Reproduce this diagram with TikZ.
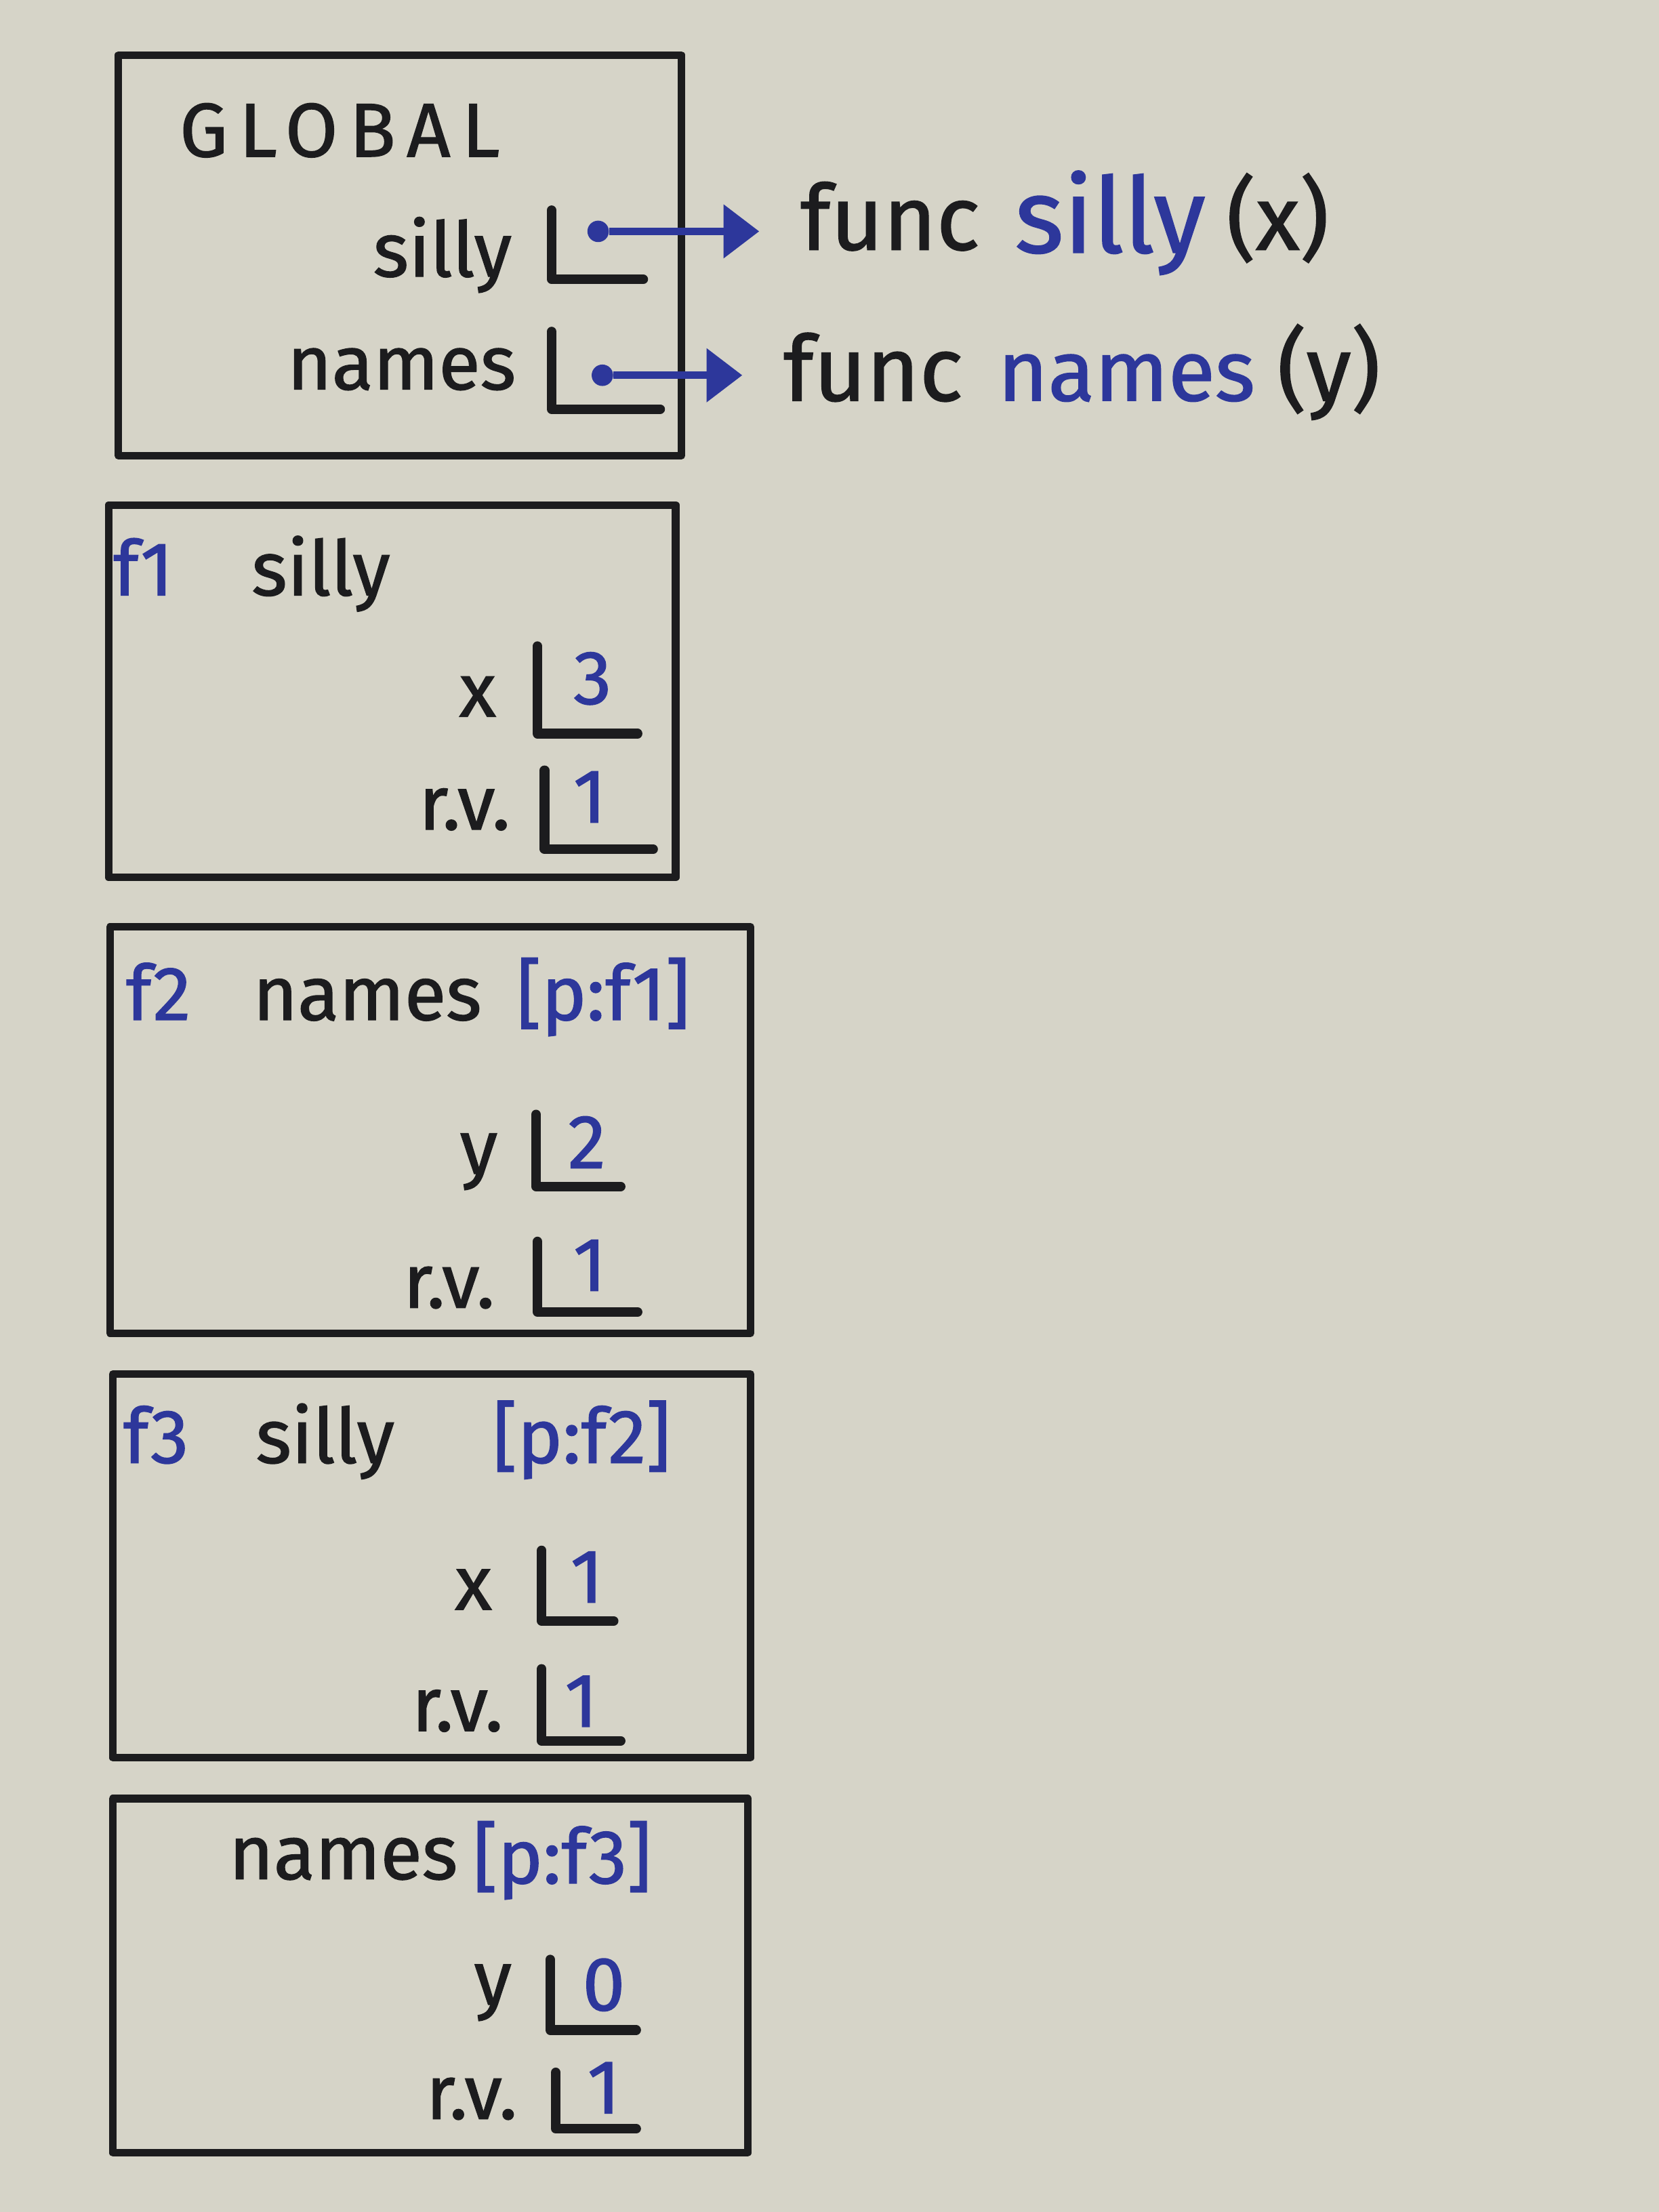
\documentclass[tikz,border=0pt]{standalone}
\usepackage{fontspec}
\setmainfont{Fira Sans}[FakeBold = 1.2]
\usetikzlibrary{arrows.meta}
\definecolor{paper}{RGB}{214,212,200}
\definecolor{ink}{RGB}{28,28,30}
\definecolor{inkblue}{RGB}{45,55,155}
\newcommand{\handfont}{\fontsize{32}{36}\selectfont}
\newcommand{\funcfont}{\fontsize{38}{42}\selectfont}
\tikzset{frm/.style = {draw = ink, line width = 3.2pt, line join = round},
  slot/.style = {draw = ink, line width = 4pt, line cap = round, line join = round},
  lbl/.style = {anchor = base east, inner sep = 0, text = ink, font = \handfont},
  hdr/.style = {anchor = base west, inner sep = 0, text = ink, font = \handfont},
  val/.style = {anchor = base, inner sep = 0, text = inkblue, font = \handfont},
  bdot/.style = {fill = inkblue, circle, inner sep = 0, minimum size = 9pt},
  ptr/.style = {draw = inkblue, line width = 3pt, shorten > = 0.6cm,
    -{Triangle[length = 15pt, width = 22pt]}}}

\begin{document}
\begin{tikzpicture}[x = 0.0208163cm, y = -0.0208163cm]
    \fill [paper] (0, 0) rectangle (1176, 1568);
    \useasboundingbox (0, 0) rectangle (1176, 1568);

    % global frame
    \draw [frm] (84, 39) rectangle (483, 323);
    \node [hdr, font = \handfont\addfontfeature{LetterSpace = 15}] (glob) at (127, 111) {GLOBAL};
    \node [lbl] (gsilly) at (363, 196) {silly};
    \draw [slot] (391, 149) -- (391, 198) -- (456, 198);
    \node [bdot] (sillyptr) at (424, 164) {};
    \node [lbl] (gnames) at (366, 276) {names};
    \draw [slot] (391, 235) -- (391, 290) -- (468, 290);
    \node [bdot] (namesptr) at (427, 266) {};

    \node [hdr, font = \funcfont] (sillyfn) at (567, 177) {func};
    \node [hdr, font = \fontsize{44}{48}\selectfont, text = inkblue] at (719, 179) {silly};
    \node [hdr, font = \funcfont] at (869, 177) {(x)};
    \node [hdr, font = \funcfont] (namesfn) at (555, 284) {func};
    \node [hdr, font = \fontsize{36}{40}\selectfont, text = inkblue] at (707, 284) {names};
    \node [hdr, font = \funcfont] at (905, 284) {(y)};

    \draw [ptr] (sillyptr) -- (sillyptr -| sillyfn.west);
    \draw [ptr] (namesptr) -- (namesptr -| namesfn.west);

    % f1
    \draw [frm] (77, 358) rectangle (479, 622);
    \node [hdr, text = inkblue] (f1id) at (80, 422) {f1};
    \node [hdr] (f1fn) at (178, 422) {silly};
    \node [lbl] (f1x) at (352, 508) {x};
    \draw [slot] (381, 458) -- (381, 520) -- (452, 520);
    \node [val] (f1xv) at (420, 499) {3};
    \node [lbl] (f1rv) at (362, 588) {r.v.};
    \draw [slot] (386, 546) -- (386, 602) -- (463, 602);
    \node [val] (f1rvv) at (418, 583) {1};

    % f2
    \draw [frm] (78, 657) rectangle (532, 945);
    \node [hdr, text = inkblue] (f2id) at (89, 723) {f2};
    \node [hdr] (f2fn) at (179, 723) {names};
    \node [hdr, text = inkblue] (f2par) at (366, 723) {[p:f1]};
    \node [lbl] (f2y) at (353, 832) {y};
    \draw [slot] (380, 790) -- (380, 841) -- (440, 841);
    \node [val] (f2yv) at (416, 828) {2};
    \node [lbl] (f2rv) at (351, 927) {r.v.};
    \draw [slot] (381, 880) -- (381, 930) -- (452, 930);
    \node [val] (f2rvv) at (418, 915) {1};

    % f3
    \draw [frm] (80, 974) rectangle (532, 1246);
    \node [hdr, text = inkblue] (f3id) at (87, 1037) {f3};
    \node [hdr] (f3fn) at (181, 1037) {silly};
    \node [hdr, text = inkblue] (f3par) at (349, 1037) {[p:f2]};
    \node [lbl] (f3x) at (349, 1141) {x};
    \draw [slot] (384, 1099) -- (384, 1149) -- (435, 1149);
    \node [val] (f3xv) at (416, 1136) {1};
    \node [lbl] (f3rv) at (357, 1227) {r.v.};
    \draw [slot] (384, 1183) -- (384, 1234) -- (440, 1234);
    \node [val] (f3rvv) at (412, 1224) {1};

    % f4
    \draw [frm] (80, 1275) rectangle (530, 1526);
    \node [hdr] (f4fn) at (162, 1332) {names};
    \node [hdr, text = inkblue] (f4par) at (335, 1335) {[p:f3]};
    \node [lbl] (f4y) at (363, 1421) {y};
    \draw [slot] (390, 1389) -- (390, 1439) -- (451, 1439);
    \node [val] (f4yv) at (428, 1425) {0};
    \node [lbl] (f4rv) at (367, 1502) {r.v.};
    \draw [slot] (394, 1469) -- (394, 1509) -- (451, 1509);
    \node [val] (f4rvv) at (428, 1498) {1};
  \end{tikzpicture}
\end{document}
